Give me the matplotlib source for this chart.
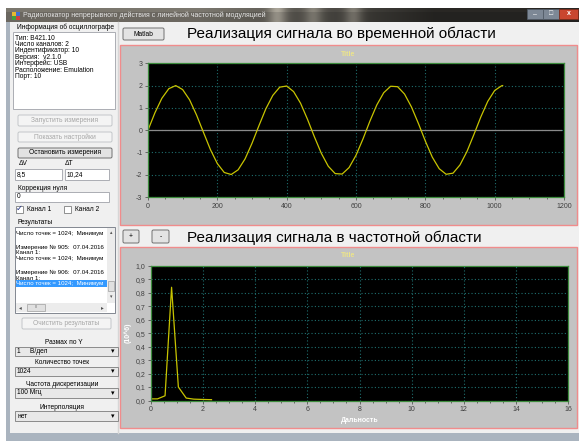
import numpy as np
import matplotlib
matplotlib.use('Agg')
from matplotlib import pyplot
from matplotlib.patches import Rectangle, FancyBboxPatch
from matplotlib.ticker import MultipleLocator, FixedLocator, FixedFormatter

pyplot.rcParams.update({'font.family': ['Liberation Sans', 'DejaVu Sans'],
                        'axes.unicode_minus': False})

#(0) Data:
### time domain (signal samples)
time_x = [0, 20, 40, 60, 80, 100, 120, 140, 160, 180, 200, 220, 240, 260, 280,
          300, 320, 340, 360, 380, 400, 420, 440, 460, 480, 500, 520, 540, 560,
          580, 600, 620, 640, 660, 680, 700, 720, 740, 760, 780, 800, 820, 840,
          860, 880, 900, 920, 940, 960, 980, 1000, 1020, 1023]
time_y = [0.00, 0.78, 1.43, 1.86, 2.00, 1.82, 1.36, 0.68, -0.10, -0.87, -1.50,
          -1.90, -1.99, -1.78, -1.29, -0.59, 0.20, 0.96, 1.56, 1.93, 1.98, 1.73,
          1.21, 0.49, -0.30, -1.04, -1.62, -1.95, -1.97, -1.68, -1.13, -0.40,
          0.40, 1.13, 1.68, 1.97, 1.95, 1.62, 1.04, 0.30, -0.49, -1.21, -1.73,
          -1.98, -1.93, -1.56, -0.96, -0.20, 0.59, 1.29, 1.78, 1.99, 2.00]
zero_x = [0, 1190]
zero_y = [0, 0]
### frequency domain (spectrum)
spec_x = [0.0, 0.26, 0.55, 0.80, 1.06, 1.36, 1.65, 1.95, 2.33]
spec_y = [0.012, 0.012, 0.035, 0.84, 0.10, 0.018, 0.010, 0.008, 0.006]
time_xticks = [0, 200, 400, 600, 800, 1000, 1200]
time_yticks = [-3, -2, -1, 0, 1, 2, 3]
spec_xticks = [0, 2, 4, 6, 8, 10, 12, 14, 16]
spec_yticks = [0.0, 0.1, 0.2, 0.3, 0.4, 0.5, 0.6, 0.7, 0.8, 0.9, 1.0]
spec_yticklabels = ['0,0', '0,1', '0,2', '0,3', '0,4', '0,5', '0,6', '0,7',
                    '0,8', '0,9', '1,0']
### texts of the form
info_lines = ['Тип: В421.10', 'Число каналов: 2', 'Индентификатор: 10',
              'Версия:  v2.1.0', 'Интерфейс: USB', 'Расположение: Emulation',
              'Порт: 10']
result_lines = ['Число точек = 1024;  Минимум', '',
                'Измерение № 905:  07.04.2016', 'Канал 1:',
                'Число точек = 1024;  Минимум', '',
                'Измерение № 906:  07.04.2016', 'Канал 1:',
                'Число точек = 1024;  Минимум']
result_rows_y = [234, 240, 247, 253, 258.5, 265, 272, 278, 283.5]


#(1) Window background drawn in pixel coordinates:
pyplot.close('all')
fig = pyplot.figure(figsize=(5.79, 4.41), dpi=100)
fig.patch.set_facecolor('white')
ui = fig.add_axes([0, 0, 1, 1])
ui.set_xlim(0, 579)
ui.set_ylim(441, 0)
ui.axis('off')


def box(x0, y0, x1, y1, fc, ec='none', lw=0.8, z=1):
	ui.add_patch(Rectangle((x0, y0), x1 - x0, y1 - y0, facecolor=fc,
	                       edgecolor=ec, linewidth=lw, zorder=z))


def label(x, y, s, size=4.8, color='#000000', ha='left', **kw):
	ui.text(x, y, s, fontsize=size, color=color, ha=ha, va='center', zorder=5, **kw)


def button(x0, y0, x1, y1, s, enabled=True):
	fc = '#e3e3e3' if enabled else '#f4f4f4'
	ec = '#707070' if enabled else '#c3c6c9'
	ui.add_patch(FancyBboxPatch((x0, y0), x1 - x0, y1 - y0,
	             boxstyle='round,pad=0,rounding_size=1.5', facecolor=fc,
	             edgecolor=ec, linewidth=0.7, zorder=2))
	label((x0 + x1) / 2, (y0 + y1) / 2, s, ha='center',
	      color='#000000' if enabled else '#a6a6a6')


def textbox(x0, y0, x1, y1, s=''):
	box(x0, y0, x1, y1, 'white', '#abadb3', 0.7, 2)
	label(x0 + 2, (y0 + y1) / 2, s)


def combo(x0, y0, x1, y1, s):
	box(x0, y0, x1, y1, '#e8e8e8', '#8a8a8a', 0.7, 2)
	label(x0 + 2, (y0 + y1) / 2, s)
	label(x1 - 5, (y0 + y1) / 2 + 0.5, '▾', size=5, ha='center')


### frame and title bar
box(6, 8, 579, 441, '#aab4bf')
grad = np.zeros((14, 573, 3))
xs = np.arange(573) + 6
base = np.clip(0.42 - np.clip(xs - 200, 0, None) * 0.0012, 0.14, 0.42)
for cx, amp in ((277, 0.25), (313, 0.18), (353, 0.2)):
	base = base + amp * np.exp(-((xs - cx) / 9.0) ** 2)
grad[:, :, 0] = base
grad[:, :, 1] = base * 0.97
grad[:, :, 2] = base * 0.9
grad[:4] = grad[:4] * 1.15
ui.imshow(np.clip(grad, 0, 1), extent=[6, 579, 22, 8], aspect='auto', zorder=1)
box(12, 12, 16, 16, '#e8b830', z=3)
box(16, 12, 20, 16, '#4070d0', z=3)
box(12, 16, 16, 20, '#40a040', z=3)
box(16, 16, 20, 20, '#d04040', z=3)
label(23, 15.5, 'Радиолокатор непрерывного действия с линейной частотной модуляцией',
      size=5, color='#e6e6e6')
box(527, 9, 543, 18.5, '#7d8896', '#505a66', 0.5, 3)
box(543, 9, 559, 18.5, '#7d8896', '#505a66', 0.5, 3)
box(559, 9, 578, 18.5, '#c9462f', '#7a2a1a', 0.5, 3)
label(535, 14.5, '–', size=5, color='white', ha='center')
label(551, 13.8, '□', size=5, color='white', ha='center')
label(568.5, 13.8, 'x', size=5, color='white', ha='center', fontweight='bold')
box(10, 22, 579, 433, '#f0f0f0')
ui.plot([117.5, 117.5], [22, 433], color='#d6d6d6', lw=1, zorder=2)

### left panel
label(17, 27.5, 'Информация об осциллографе')
box(13, 32, 115, 109, 'white', '#abadb3', 0.7, 2)
for i, s in enumerate(info_lines):
	label(15, 38 + 6.4 * i, s)
button(18, 115, 112, 126, 'Запустить измерения', False)
button(18, 132, 112, 142, 'Показать настройки', False)
button(18, 148, 112, 158, 'Остановить измерения', True)
label(19, 163.5, 'ΔV')
label(65, 163.5, 'ΔT')
textbox(15, 169, 62, 180, '8,5')
textbox(65, 169, 109, 180, '10,24')
label(18, 188, 'Коррекция нуля')
textbox(15, 192, 109, 202, '0')
box(16, 206, 23, 213, 'white', '#8e8f8f', 0.7, 2)
label(19.5, 209.5, '✓', size=6, color='#203080', ha='center')
label(27, 209.5, 'Канал 1')
box(64, 206, 71, 213, 'white', '#8e8f8f', 0.7, 2)
label(75, 209.5, 'Канал 2')
label(17, 222.5, 'Результаты')
box(15, 227, 115, 313, 'white', '#828790', 0.7, 2)
box(16, 280, 107, 287, '#3399ff', z=3)
for i, (s, yy) in enumerate(zip(result_lines, result_rows_y)):
	if s:
		label(16.5, yy, s, size=4.4,
		      color='white' if i == len(result_lines) - 1 else '#000000')
box(107, 228, 115, 303, '#ececec', z=3)
box(108, 281, 114, 291, '#e0e0e0', '#a0a0a0', 0.5, 4)
label(111.5, 233, '▴', size=3.5, ha='center', color='#505050')
label(111.5, 297, '▾', size=3.5, ha='center', color='#505050')
box(16, 303, 107, 312, '#ececec', z=3)
box(27, 304, 45, 311, '#e0e0e0', '#a0a0a0', 0.5, 4)
label(20, 307.5, '◂', size=4, ha='center', color='#505050')
label(102, 307.5, '▸', size=4, ha='center', color='#505050')
label(36, 307.5, 'III', size=3, ha='center', color='#707070')
button(22, 318, 111, 329, 'Очистить результаты', False)
label(64, 342, 'Размах по Y', ha='center')
combo(15, 347, 118, 356, '1     В/дел')
label(62, 362, 'Количество точек', ha='center')
combo(15, 367, 118, 376, '1024')
label(62, 384, 'Частота дискретизации', ha='center')
combo(15, 388, 118, 398, '100 Мгц')
label(62, 407.5, 'Интерполяция', ha='center')
combo(15, 411, 118, 421, 'нет')

### right part: headers and chart panels
button(123, 28, 164, 40, 'Matlab', True)
label(187, 34, 'Реализация сигнала во временной области', size=11)
box(119.5, 44.5, 576.5, 225, '#c3c3c3', '#f08c8c', 1.0, 2)
button(123, 230, 139, 243, '+', True)
button(152, 230, 169, 243, '-', True)
label(187, 237.5, 'Реализация сигнала в частотной области', size=11)
box(119.5, 247, 576.5, 428, '#c3c3c3', '#f08c8c', 1.0, 2)
label(348, 55, 'Title', size=5, color='#ece48a', ha='center', fontweight='bold')
label(348, 255.5, 'Title', size=5, color='#ece48a', ha='center', fontweight='bold')
label(359.5, 420, 'Дальность', size=5, color='white', ha='center', fontweight='bold')
label(128, 333, '(10^6)', size=5, color='white', ha='center', fontweight='bold',
      rotation=90)


#(2) Charts:
def style(ax):
	ax.set_facecolor('black')
	for sp in ax.spines.values():
		sp.set_color('#3d8c3d')
		sp.set_linewidth(0.9)
	ax.grid(True, which='major', color='#1f6e6e', linestyle=(0, (1, 2)), linewidth=0.8)
	ax.tick_params(which='major', labelsize=5, colors='#404040', length=2.5,
	               width=0.5, pad=1.5)
	ax.tick_params(which='minor', colors='#404040', length=1.5, width=0.5)


ax1 = fig.add_axes([148 / 579, 1 - 197 / 441, 416 / 579, 133.7 / 441])
style(ax1)
ax1.plot(zero_x, zero_y, color='#8a8a8a', lw=0.9)
ax1.plot(time_x, time_y, color='#c8c400', lw=0.9)
ax1.set_xlim(0, 1200)
ax1.set_ylim(-3, 3)
ax1.xaxis.set_major_locator(FixedLocator(time_xticks))
ax1.yaxis.set_major_locator(FixedLocator(time_yticks))
ax1.xaxis.set_minor_locator(MultipleLocator(50))

ax2 = fig.add_axes([150.7 / 579, 1 - 400.5 / 441, 417.6 / 579, 134.8 / 441])
style(ax2)
ax2.plot(spec_x, spec_y, color='#c8c400', lw=0.9)
ax2.set_xlim(0, 16)
ax2.set_ylim(0, 1.0)
ax2.xaxis.set_major_locator(FixedLocator(spec_xticks))
ax2.xaxis.set_minor_locator(MultipleLocator(0.5))
ax2.yaxis.set_major_locator(FixedLocator(spec_yticks))
ax2.yaxis.set_major_formatter(FixedFormatter(spec_yticklabels))

pyplot.savefig('out.png', dpi=100)
